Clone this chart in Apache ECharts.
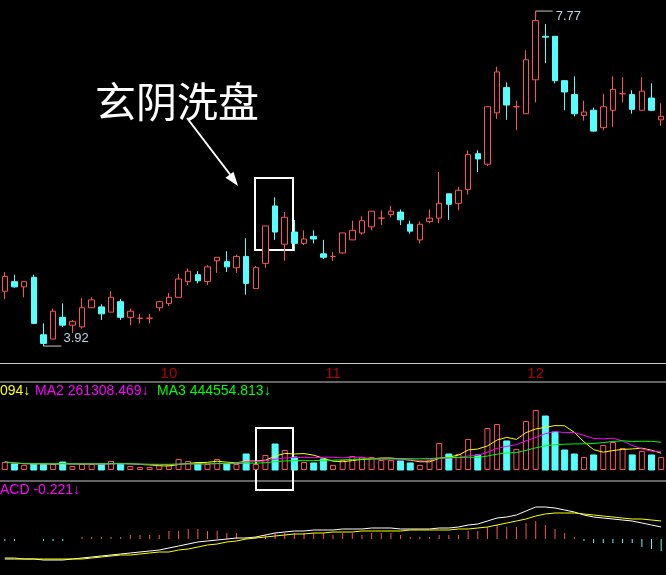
<!DOCTYPE html>
<html><head><meta charset="utf-8">
<script src="https://cdn.jsdelivr.net/npm/echarts@6/dist/echarts.min.js"></script>
<style>html,body{margin:0;padding:0;background:#000}#c{width:666px;height:575px}</style>
</head><body><div id="c"></div>
<script>
// [open, close, low, high]
const ohlc = [
[4.55,4.72,4.46,4.77],[4.66,4.60,4.59,4.74],[4.60,4.66,4.48,4.66],[4.71,4.18,4.18,4.74],[4.05,3.95,3.92,4.18],
[4.00,4.32,4.00,4.35],[4.25,4.16,4.14,4.41],[4.16,4.20,4.07,4.22],[4.14,4.36,4.12,4.47],[4.36,4.45,4.36,4.48],
[4.37,4.29,4.22,4.40],[4.31,4.48,4.31,4.55],[4.43,4.25,4.22,4.46],[4.25,4.32,4.16,4.35],[4.24,4.24,4.18,4.29],
[4.24,4.24,4.18,4.29],[4.36,4.43,4.32,4.44],[4.41,4.48,4.38,4.53],[4.48,4.69,4.48,4.75],[4.66,4.78,4.62,4.81],
[4.74,4.67,4.64,4.78],[4.66,4.83,4.62,4.85],[4.90,4.94,4.76,4.94],[4.89,4.83,4.77,5.01],[4.82,4.95,4.76,4.97],
[4.95,4.64,4.51,5.16],[4.58,4.82,4.58,4.84],[4.87,5.30,4.82,5.30],[5.53,5.23,5.14,5.63],[5.09,5.40,4.90,5.46],
[5.23,5.10,5.01,5.37],[5.10,5.15,5.08,5.25],[5.18,5.15,5.10,5.25],[4.98,4.94,4.92,5.14],[4.95,4.95,4.90,5.00],
[4.99,5.22,4.98,5.22],[5.14,5.25,5.14,5.36],[5.22,5.36,5.20,5.41],[5.29,5.47,5.25,5.47],[5.39,5.39,5.31,5.48],
[5.43,5.47,5.40,5.53],[5.46,5.37,5.31,5.49],[5.32,5.24,5.21,5.36],[5.14,5.32,5.10,5.35],[5.35,5.39,5.33,5.49],
[5.39,5.56,5.33,5.92],[5.67,5.55,5.37,5.67],[5.56,5.71,5.48,5.75],[5.72,6.12,5.66,6.17],[6.13,6.07,5.92,6.17],
[6.01,6.67,5.99,6.67],[6.60,7.07,6.53,7.13],[6.89,6.69,6.52,6.95],[6.67,6.67,6.40,6.74],[6.59,7.21,6.59,7.32],
[6.98,7.66,6.72,7.77],[7.48,7.47,7.17,7.62],[7.48,6.97,6.94,7.48],[6.97,6.84,6.63,6.97],[6.81,6.59,6.56,7.02],
[6.57,6.61,6.51,6.74],[6.63,6.39,6.38,6.66],[6.43,6.67,6.40,6.82],[6.63,6.87,6.44,7.02],[6.82,6.82,6.72,7.01],
[6.81,6.64,6.59,6.86],[6.63,6.85,6.63,7.01],[6.77,6.63,6.62,6.94],[6.52,6.56,6.45,6.71]
];
// volume, thousands
const volume = [116,87,73,87,87,87,116,58,87,87, 87,131,87,58,44,44,73,73,160,131,
 102,87,160,87,87,232,87,218,377,290, 189,116,102,160,73,145,203,189,189,145,
 145,131,102,73,145,392,232,232,450,218, 609,667,421,305,711,870,783,551,290,232,
 189,218,363,406,319,218,276,218,189];
const dif = [-0.60,-0.60,-0.60,-0.60,-0.63,-0.63,-0.63,-0.60,-0.57,-0.54,
 -0.51,-0.48,-0.45,-0.42,-0.39,-0.36,-0.33,-0.27,-0.21,-0.15,
 -0.09,-0.06,-0.03,0,0.03,0.03,0.06,0.12,0.18,0.21,
 0.24,0.24,0.27,0.27,0.27,0.30,0.30,0.30,0.33,0.33,
 0.33,0.30,0.30,0.30,0.30,0.33,0.33,0.36,0.42,0.45,
 0.54,0.63,0.66,0.72,0.84,0.96,0.96,0.93,0.87,0.81,
 0.72,0.66,0.63,0.60,0.57,0.54,0.48,0.42,0.36];
const dea = [-0.57,-0.57,-0.60,-0.60,-0.60,-0.60,-0.60,-0.60,-0.60,-0.57,
 -0.54,-0.51,-0.48,-0.48,-0.45,-0.42,-0.39,-0.39,-0.33,-0.30,
 -0.24,-0.18,-0.15,-0.09,-0.06,0,0.03,0.06,0.09,0.12,
 0.15,0.15,0.18,0.18,0.21,0.21,0.21,0.24,0.24,0.24,
 0.24,0.24,0.27,0.27,0.27,0.27,0.27,0.30,0.30,0.33,
 0.36,0.42,0.48,0.54,0.60,0.69,0.75,0.78,0.78,0.78,
 0.75,0.72,0.69,0.66,0.63,0.60,0.60,0.57,0.54];
const monthLabels = {17:'10', 34:'11', 55:'12'};
const categories = ohlc.map((d,i)=>String(i));

const RED='#ff5252', CYAN='#54ffff';
function ma(arr,n){return arr.map((v,i)=>{const s=arr.slice(Math.max(0,i-n+1),i+1);return s.reduce((a,b)=>a+b,0)/s.length;});}
const volData = volume.map((v,i)=>{const up = ohlc[i][1]>=ohlc[i][0];
 return {value:v,itemStyle: up?{color:'#000',borderColor:RED,borderWidth:1}:{color:CYAN,borderColor:CYAN}};});
const hist = dif.map((v,i)=>{const h=2*(v-dea[i]);return {value:h,itemStyle:{color:h>=0?RED:CYAN}};});

const chart = echarts.init(document.getElementById('c'));
const lowIdx=4, highIdx=55;
chart.setOption({
 backgroundColor:'#000', animation:false,
 grid:[{left:0,right:0,top:0,height:363},{left:0,right:0,top:400,height:70},{left:0,right:0,top:495,height:80}],
 xAxis:[
  {type:'category',gridIndex:0,data:categories,boundaryGap:true,
   axisLine:{lineStyle:{color:'#c8c8c8',width:1}},
   axisTick:{interval:(i)=>((i-3)%5===0),length:5,lineStyle:{color:'#c8c8c8'}},
   axisLabel:{interval:0,formatter:(v,i)=>monthLabels[i]||'',color:'#b00000',fontSize:15,fontFamily:'Arial',margin:3}},
  {type:'category',gridIndex:1,data:categories,axisLine:{show:false},axisTick:{show:false},axisLabel:{show:false}},
  {type:'category',gridIndex:2,data:categories,axisLine:{show:false},axisTick:{show:false},axisLabel:{show:false}}
 ],
 yAxis:[
  {gridIndex:0,min:3.725,max:7.897,show:false},
  {gridIndex:1,min:0,max:1015,show:false},
  {gridIndex:2,min:-1.08,max:1.32,show:false}
 ],
 series:[
  {type:'candlestick',xAxisIndex:0,yAxisIndex:0,data:ohlc,barWidth:6,
   itemStyle:{color:'#000',color0:CYAN,borderColor:RED,borderColor0:CYAN,borderColorDoji:RED,borderWidth:1}},
  {type:'bar',xAxisIndex:1,yAxisIndex:1,data:volData,barWidth:6},
  {type:'line',xAxisIndex:1,yAxisIndex:1,data:ma(volume,5),symbol:'none',lineStyle:{color:'#ffff00',width:1}},
  {type:'line',xAxisIndex:1,yAxisIndex:1,data:ma(volume,10),symbol:'none',lineStyle:{color:'#ff00ff',width:1}},
  {type:'line',xAxisIndex:1,yAxisIndex:1,data:ma(volume,20),symbol:'none',lineStyle:{color:'#00ff00',width:1}},
  {type:'bar',xAxisIndex:2,yAxisIndex:2,data:hist,barWidth:1},
  {type:'line',xAxisIndex:2,yAxisIndex:2,data:dif,symbol:'none',lineStyle:{color:'#ffffff',width:1}},
  {type:'line',xAxisIndex:2,yAxisIndex:2,data:dea,symbol:'none',lineStyle:{color:'#ffff00',width:1}}
 ]
});
const pLow = chart.convertToPixel({gridIndex:0},[lowIdx, ohlc[lowIdx][2]]);
const pHigh = chart.convertToPixel({gridIndex:0},[highIdx, ohlc[highIdx][3]]);
const tf='Arial, Liberation Sans, sans-serif';
chart.setOption({graphic:[
 {type:'line',shape:{x1:0,y1:382,x2:666,y2:382},style:{stroke:'#c8c8c8',lineWidth:1}},
 {type:'line',shape:{x1:0,y1:481,x2:666,y2:481},style:{stroke:'#c8c8c8',lineWidth:1}},
 {type:'line',shape:{x1:pLow[0],y1:pLow[1],x2:pLow[0]+18,y2:pLow[1]},style:{stroke:'#c8c8c8',lineWidth:1}},
 {type:'text',x:pLow[0]+20,y:pLow[1]-14,style:{text:'3.92',fill:'#c0d0e8',font:'13px '+tf}},
 {type:'line',shape:{x1:pHigh[0],y1:pHigh[1],x2:pHigh[0]+17,y2:pHigh[1]},style:{stroke:'#c8c8c8',lineWidth:1}},
 {type:'line',shape:{x1:pHigh[0],y1:pHigh[1],x2:pHigh[0],y2:pHigh[1]+5},style:{stroke:RED,lineWidth:1}},
 {type:'text',x:pHigh[0]+20,y:pHigh[1]-1,style:{text:'7.77',fill:'#c0d0e8',font:'13px '+tf}},
 {type:'text',x:95,y:81,style:{text:'玄阴洗盘',fill:'#fff',font:'41px "Noto Sans CJK SC"'}},
 {type:'line',shape:{x1:187,y1:118,x2:232,y2:177},style:{stroke:'#fff',lineWidth:2}},
 {type:'polygon',shape:{points:[[238,186],[225.5,177.8],[233.5,171.8]]},style:{fill:'#fff'}},
 {type:'rect',shape:{x:255,y:178,width:38,height:72},style:{stroke:'#fff',fill:'none',lineWidth:2}},
 {type:'rect',shape:{x:256,y:428,width:37,height:62},style:{stroke:'#fff',fill:'none',lineWidth:2}},
 {type:'text',x:0,y:384,style:{text:'094↓',fill:'#ffff00',font:'14px '+tf}},
 {type:'text',x:35,y:384,style:{text:'MA2 261308.469↓',fill:'#ff00ff',font:'14px '+tf}},
 {type:'text',x:157,y:384,style:{text:'MA3 444554.813↓',fill:'#00ff00',font:'14px '+tf}},
 {type:'text',x:0,y:483,style:{text:'ACD -0.221↓',fill:'#ff00ff',font:'14px '+tf}}
]});
</script></body></html>
